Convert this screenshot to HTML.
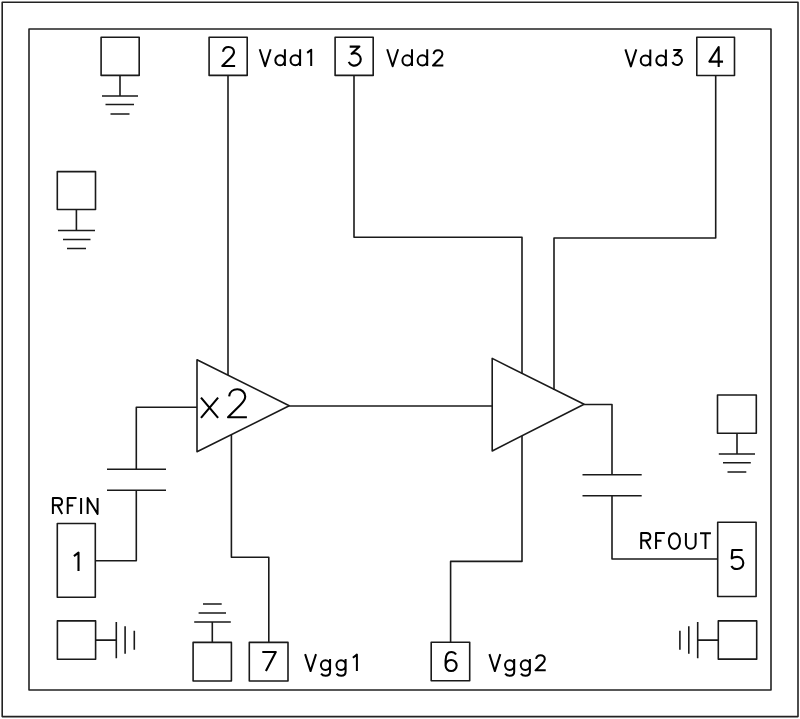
<!DOCTYPE html>
<html><head><meta charset="utf-8"><title>Amplifier block diagram</title>
<style>
html,body{margin:0;padding:0;background:#fff;width:800px;height:719px;overflow:hidden}
svg{display:block}
</style></head>
<body>
<svg width="800" height="719" viewBox="0 0 800 719">
<g fill="none" stroke="#222" stroke-width="1.6" stroke-linecap="square" stroke-linejoin="round">
<rect x="2.2" y="2.2" width="795.8" height="714.4"/>
<rect x="29" y="29" width="742" height="661"/>
</g>
<g fill="none" stroke="#1a1a1a" stroke-width="1.6" stroke-linecap="butt" stroke-linejoin="round">
<rect x="101.1" y="37.3" width="38.1" height="38.1"/>
<path d="M120 75.4V96M102 96H138M105.5 104.5H134M110.5 114H129.5"/>
<rect x="57.3" y="171.6" width="38.2" height="37.9"/>
<path d="M76.4 209.5V230.5M58 230.5H95M63 239.5H90.5M67 248.5H86"/>
<rect x="209.1" y="37.3" width="38.1" height="38.1"/>
<path d="M228 75.4V375"/>
<rect x="335.1" y="37.3" width="38.1" height="38.1"/>
<path d="M354 75.4V237.3H522V374"/>
<rect x="696.8" y="37.3" width="37.7" height="38.2"/>
<path d="M715.7 75.5V238H554V390"/>
<path d="M197 359.8V451.7L289.25 405.8Z"/>
<path d="M492.2 358.4V451L584.1 404.3Z"/>
<path d="M289.25 406H492.2"/>
<path d="M197 407.3H136.3V469.2M107 469.2H166M107 490.2H166M136.3 490.2V560.7H95.3"/>
<rect x="57.3" y="523.5" width="38" height="73.7"/>
<path d="M231.4 435V557.2H268.8V642.4"/>
<rect x="249.3" y="642.4" width="38.7" height="38.6"/>
<rect x="193.1" y="642.4" width="38.3" height="38.6"/>
<path d="M212.3 642.4V622M194.2 622H230.8M198.6 613H226M203 604H221.7"/>
<rect x="431.2" y="642.3" width="38.5" height="38.4"/>
<path d="M450.6 642.3V561.4H522V436"/>
<path d="M584.1 404.5H612V474.8M582.5 474.8H641.7M582.5 495.8H641.7M612 495.8V559H717.7"/>
<rect x="717.7" y="522.3" width="38.4" height="74.2"/>
<rect x="717.5" y="395" width="38.8" height="38.3"/>
<path d="M737 433.3V454M718.8 454H755M723 462.8H750.8M727.5 472H746.3"/>
<rect x="57.4" y="620.9" width="38.2" height="38.3"/>
<path d="M95.6 640.15H116.3M116.3 622.1V658.3M125.1 626.3V653.8M134.3 630.8V649.8"/>
<rect x="718.3" y="620.9" width="38.4" height="38.25"/>
<path d="M718.3 640.15H697.7M697.7 622.1V658.3M688.8 626.3V653.8M679.9 630.8V649.8"/>
</g>

<g fill="none" stroke="#000" stroke-linecap="butt" stroke-linejoin="round">
<path aria-label="2" stroke-width="2.10" d="M 223.06,51.75 C 223.44,48.52 225.91,47.00 228.57,47.00 C 231.61,47.00 233.99,49.09 233.99,51.94 C 233.99,54.22 232.56,55.74 230.66,57.64 L 222.30,66.00 L 235.12,66.00"/>
<path aria-label="3" stroke-width="2.10" d="M 349.68,46.60 L 359.37,46.60 L 351.58,53.82 A 6.27,6.27 0 1 1 348.73,61.80"/>
<path aria-label="4" stroke-width="2.10" d="M 718.67,66.95 L 718.67,47.00 L 709.36,61.63 L 723.04,61.63"/>
<path aria-label="1" stroke-width="2.10" d="M 73.94,556.18 L 78.50,552.57 L 78.50,571.00"/>
<path aria-label="5" stroke-width="2.10" d="M 742.58,550.00 L 732.32,550.00 L 731.75,558.36 C 733.27,557.22 735.17,556.84 737.26,556.84 A 6.08,6.08 0 0 1 737.26,569.00 A 6.08,6.08 0 0 1 731.37,565.96"/>
<path aria-label="6" stroke-width="2.10" d="M 456.05,654.47 C 454.91,652.76 453.20,652.00 451.30,652.00 C 447.69,652.00 445.60,655.23 445.60,660.55 L 445.60,665.49 M 445.60,665.49 A 5.51,5.51 0 1 0 456.62,665.49 A 5.51,5.51 0 1 0 445.60,665.49"/>
<path aria-label="7" stroke-width="2.10" d="M 262.30,652.00 L 275.79,652.00 L 265.91,671.00"/>
<path aria-label="Vdd1" stroke-width="2.00" d="M 259.70,49.20 L 265.16,66.17 L 270.62,49.20 M 284.90,49.20 L 284.90,66.00 M 284.90,60.29 A 4.79,5.04 0 1 0 275.32,60.29 A 4.79,5.04 0 1 0 284.90,60.29 M 300.10,49.20 L 300.10,66.00 M 300.10,60.29 A 4.79,5.04 0 1 0 290.52,60.29 A 4.79,5.04 0 1 0 300.10,60.29 M 307.17,52.90 L 311.20,49.70 L 311.20,66.00"/>
<path aria-label="Vdd2" stroke-width="2.00" d="M 387.20,49.30 L 392.66,66.27 L 398.12,49.30 M 412.00,49.30 L 412.00,66.10 M 412.00,60.39 A 4.79,5.04 0 1 0 402.42,60.39 A 4.79,5.04 0 1 0 412.00,60.39 M 427.20,49.30 L 427.20,66.10 M 427.20,60.39 A 4.79,5.04 0 1 0 417.62,60.39 A 4.79,5.04 0 1 0 427.20,60.39 M 433.61,54.02 C 433.92,51.42 435.91,50.20 438.05,50.20 C 440.50,50.20 442.41,51.88 442.41,54.18 C 442.41,56.01 441.26,57.24 439.73,58.77 L 433.00,65.50 L 443.33,65.50"/>
<path aria-label="Vdd3" stroke-width="2.00" d="M 625.40,49.40 L 630.86,66.37 L 636.32,49.40 M 650.30,49.40 L 650.30,66.20 M 650.30,60.49 A 4.79,5.04 0 1 0 640.72,60.49 A 4.79,5.04 0 1 0 650.30,60.49 M 665.90,49.40 L 665.90,66.20 M 665.90,60.49 A 4.79,5.04 0 1 0 656.32,60.49 A 4.79,5.04 0 1 0 665.90,60.49 M 673.20,50.00 L 680.85,50.00 L 674.70,55.70 A 4.95,4.95 0 1 1 672.45,62.00"/>
<path aria-label="Vgg1" stroke-width="2.00" d="M 305.10,654.10 L 310.56,671.07 L 316.02,654.10 M 330.07,659.06 L 330.07,671.74 C 330.07,674.26 328.14,675.69 325.62,675.69 C 323.43,675.69 321.92,674.76 321.08,673.59 M 330.07,665.10 A 4.58,4.87 0 1 0 320.91,665.10 A 4.58,4.87 0 1 0 330.07,665.10 M 345.60,659.06 L 345.60,671.74 C 345.60,674.26 343.67,675.69 341.15,675.69 C 338.96,675.69 337.45,674.76 336.61,673.59 M 345.60,665.10 A 4.58,4.87 0 1 0 336.44,665.10 A 4.58,4.87 0 1 0 345.60,665.10 M 352.87,657.80 L 356.90,654.60 L 356.90,670.90"/>
<path aria-label="Vgg2" stroke-width="2.00" d="M 489.40,654.10 L 494.86,671.07 L 500.32,654.10 M 514.20,659.06 L 514.20,671.74 C 514.20,674.26 512.27,675.69 509.75,675.69 C 507.56,675.69 506.05,674.76 505.21,673.59 M 514.20,665.10 A 4.58,4.87 0 1 0 505.04,665.10 A 4.58,4.87 0 1 0 514.20,665.10 M 529.90,659.06 L 529.90,671.74 C 529.90,674.26 527.97,675.69 525.45,675.69 C 523.26,675.69 521.75,674.76 520.91,673.59 M 529.90,665.10 A 4.58,4.87 0 1 0 520.74,665.10 A 4.58,4.87 0 1 0 529.90,665.10 M 536.11,658.99 C 536.41,656.41 538.38,655.20 540.50,655.20 C 542.92,655.20 544.82,656.87 544.82,659.14 C 544.82,660.96 543.68,662.17 542.17,663.68 L 535.50,670.35 L 545.73,670.35"/>
<path aria-label="RFIN" stroke-width="2.00" d="M 52.90,513.90 L 52.90,497.90 L 58.02,497.90 C 60.42,497.90 62.02,499.50 62.02,501.66 C 62.02,503.82 60.42,505.34 58.02,505.34 L 52.90,505.34 M 57.38,505.34 L 62.18,513.90 M 76.54,497.90 L 67.74,497.90 L 67.74,513.90 M 67.74,505.58 L 73.18,505.58 M 81.10,497.90 L 81.10,513.90 M 87.65,513.90 L 87.65,497.90 L 97.57,513.90 L 97.57,497.90"/>
<path aria-label="RFOUT" stroke-width="2.00" d="M 641.20,549.10 L 641.20,533.05 L 646.34,533.05 C 648.74,533.05 650.35,534.65 650.35,536.82 C 650.35,538.99 648.74,540.51 646.34,540.51 L 641.20,540.51 M 645.69,540.51 L 650.51,549.10 M 664.88,533.05 L 656.05,533.05 L 656.05,549.10 M 656.05,540.75 L 661.51,540.75 M 668.90,541.08 A 5.54,7.54 0 1 0 679.97,541.08 A 5.54,7.54 0 1 0 668.90,541.08 M 685.90,533.05 L 685.90,543.96 A 4.86,4.98 0 0 0 695.61,543.96 L 695.61,533.05 M 700.00,533.37 L 710.91,533.37 M 705.46,533.37 L 705.46,549.10"/>
<path aria-label="x2" stroke-width="2.1" d="M 201.00,397.66 L 218.10,417.90 M 218.10,397.66 L 201.00,417.90 M 229.12,396.30 C 229.68,391.54 233.32,389.30 237.24,389.30 C 241.72,389.30 245.22,392.38 245.22,396.58 C 245.22,399.94 243.12,402.18 240.32,404.98 L 228.00,417.30 L 246.90,417.30"/>
</g>
</svg>
</body></html>
